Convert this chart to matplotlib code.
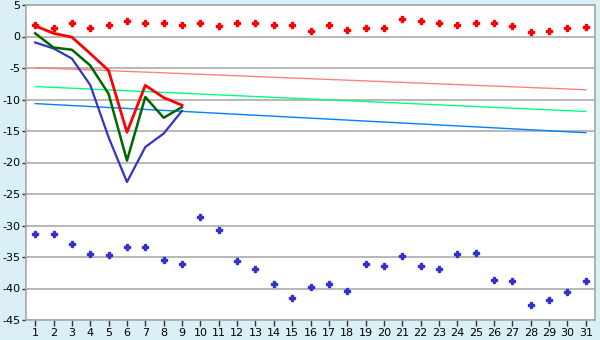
import matplotlib
matplotlib.use("Agg")
import matplotlib.pyplot as plt

days = list(range(1, 32))

red_dots = [1.8, 1.4, 2.2, 1.4, 1.8, 2.5, 2.1, 2.1, 1.8, 2.2,
            1.6, 2.2, 2.1, 1.75, 1.9, 0.95, 1.9, 1.1, 1.4, 1.4,
            2.7, 2.5, 2.1, 1.9, 2.2, 2.2, 1.6, 0.64, 0.95, 1.27, 1.43]
blue_dots = [-31.3, -31.3, -32.9, -34.5, -34.7, -33.4, -33.4, -35.5, -36.1, -28.6,
             -30.7, -35.6, -36.9, -39.3, -41.5, -39.7, -39.3, -40.4, -36.1, -36.4,
             -34.8, -36.4, -36.9, -34.5, -34.3, -38.6, -38.8, -42.6, -41.8, -40.5, -38.8]

line_days = list(range(1, 10))
red_line = [1.7, 0.5, -0.1, -2.7, -5.4, -15.2, -7.75, -9.7, -10.9]
green_line = [0.5, -1.75, -2.1, -4.6, -9.1, -19.7, -9.6, -12.9, -11.2]
blue_line = [-0.95, -1.9, -3.5, -7.7, -16.0, -23.1, -17.55, -15.4, -11.8]

trend_x = [1, 31]
pink_trend = [-4.95, -8.45]
green_trend = [-7.95, -11.9]
blue_trend = [-10.65, -15.27]

yticks = list(range(-45, 6, 5))

bg = "#DAEFF6"
fig = plt.figure(figsize=(6, 3.4), dpi=100, facecolor=bg)
ax = fig.add_axes([26/600, 1-320/340, 569/600, 315/340])
ax.set_facecolor("white")

ax.set_xlim(0.5, 31.5)
ax.set_ylim(-45, 5)
ax.set_yticks(yticks)
ax.set_yticklabels([str(v) for v in yticks])
ax.set_xticks(days)
ax.set_xticklabels([str(d) for d in days])
ax.grid(axis="y", color="#ABABAB", lw=1.2)
ax.set_axisbelow(True)

for s in ax.spines.values():
    s.set_color("#A8A8A8")
    s.set_linewidth(1.2)

ax.tick_params(axis="x", labelsize=8, color="#333333", length=4, width=1, pad=2)
ax.tick_params(axis="y", labelsize=8, color="#333333", length=3, width=1, pad=1)

ax.plot(trend_x, pink_trend, color="#FF8080", lw=1)
ax.plot(trend_x, green_trend, color="#00FF80", lw=1)
ax.plot(trend_x, blue_trend, color="#0080FF", lw=1)

ax.plot(line_days, blue_line, color="#3333CC", lw=1.6)
ax.plot(line_days, green_line, color="#006600", lw=1.8)
ax.plot(line_days, red_line, color="#FF0000", lw=2)

ax.plot(days, red_dots, ls="none", marker="P", ms=4.2, color="#FF0000", mec="#FF0000")
ax.plot(days, blue_dots, ls="none", marker="P", ms=4.2, color="#3333CC", mec="#3333CC")

fig.savefig("out.png", dpi=100, facecolor=bg)
